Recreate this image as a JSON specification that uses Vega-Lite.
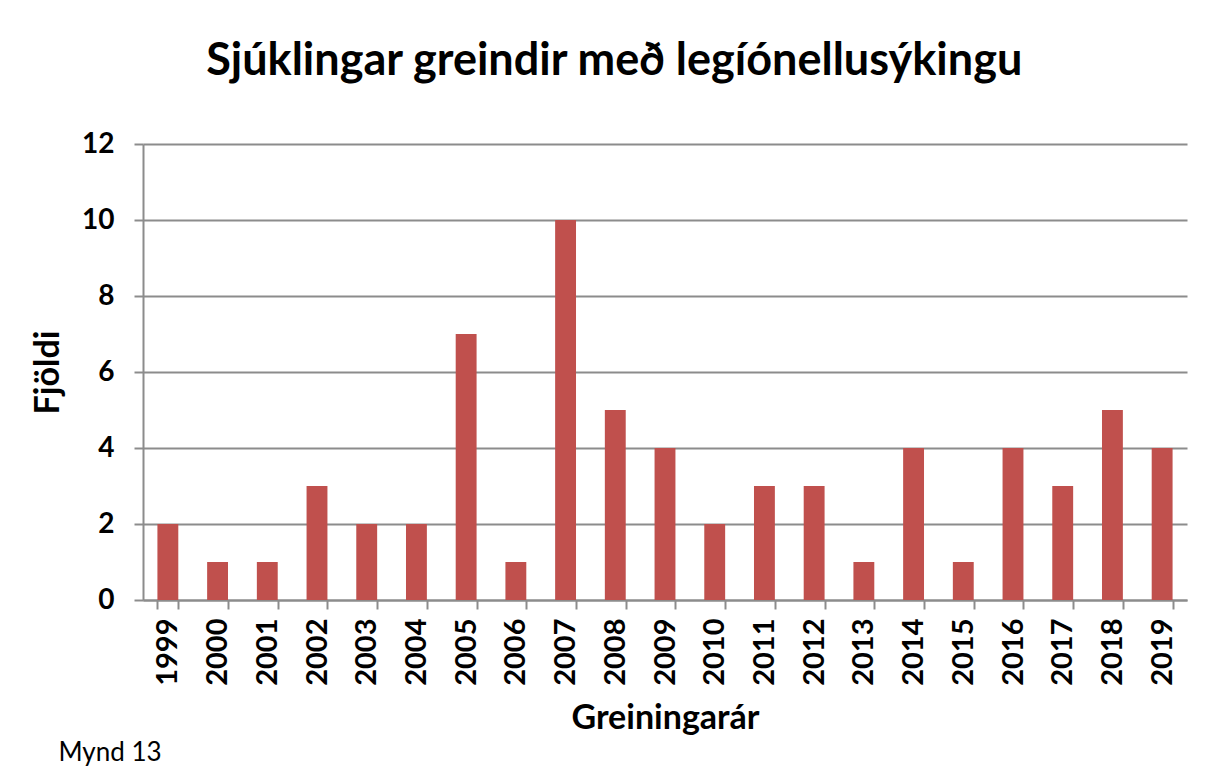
{
  "$schema": "https://vega.github.io/schema/vega-lite/v6.json",
  "background": "white",
  "padding": {"left": 31, "top": 39, "right": 20, "bottom": 5},
  "title": {"text": "Mynd 13", "orient": "bottom", "anchor": "start", "font": "Lato", "fontSize": 26, "fontWeight": "normal", "color": "#000000", "dx": 27, "offset": 5},
  "vconcat": [
    {
      "width": 1044,
      "height": 456,
      "title": {"text": "Sjúklingar greindir með legíónellusýkingu", "font": "Lato", "fontSize": 45, "fontWeight": "bold", "color": "#000000", "anchor": "middle", "frame": "bounds", "offset": 46, "dx": 5},
      "data": {
        "values": [
          {"ar": "1999", "fjoldi": 2}, {"ar": "2000", "fjoldi": 1}, {"ar": "2001", "fjoldi": 1},
          {"ar": "2002", "fjoldi": 3}, {"ar": "2003", "fjoldi": 2}, {"ar": "2004", "fjoldi": 2},
          {"ar": "2005", "fjoldi": 7}, {"ar": "2006", "fjoldi": 1}, {"ar": "2007", "fjoldi": 10},
          {"ar": "2008", "fjoldi": 5}, {"ar": "2009", "fjoldi": 4}, {"ar": "2010", "fjoldi": 2},
          {"ar": "2011", "fjoldi": 3}, {"ar": "2012", "fjoldi": 3}, {"ar": "2013", "fjoldi": 1},
          {"ar": "2014", "fjoldi": 4}, {"ar": "2015", "fjoldi": 1}, {"ar": "2016", "fjoldi": 4},
          {"ar": "2017", "fjoldi": 3}, {"ar": "2018", "fjoldi": 5}, {"ar": "2019", "fjoldi": 4}
        ]
      },
      "mark": {"type": "bar", "color": "#C0504D"},
      "encoding": {
        "x": {
          "field": "ar", "type": "ordinal", "title": "Greiningarár",
          "scale": {"paddingInner": 0.58, "paddingOuter": 0.29},
          "axis": {
            "labelAngle": -90, "labelAlign": "right", "labelBaseline": "middle",
            "labelFont": "Lato", "labelFontSize": 29, "labelFontWeight": "bold", "labelColor": "#000000",
            "labelPadding": 9,
            "tickBand": "extent", "tickSize": 9, "tickColor": "#8c8c8c", "tickWidth": 2,
            "domainColor": "#8c8c8c", "domainWidth": 2,
            "titleFont": "Lato", "titleFontSize": 34, "titleFontWeight": "bold", "titleColor": "#000000", "titlePadding": 16
          }
        },
        "y": {
          "field": "fjoldi", "type": "quantitative", "title": "Fjöldi",
          "scale": {"domain": [0, 12]},
          "axis": {
            "values": [0, 2, 4, 6, 8, 10, 12],
            "labelFont": "Lato", "labelFontSize": 28, "labelFontWeight": "bold", "labelColor": "#000000",
            "labelPadding": 20,
            "tickSize": 9, "tickColor": "#8c8c8c", "tickWidth": 2,
            "domainColor": "#8c8c8c", "domainWidth": 2,
            "grid": true, "gridColor": "#8c8c8c", "gridWidth": 2,
            "titleFont": "Lato", "titleFontSize": 34, "titleFontWeight": "bold", "titleColor": "#000000", "titlePadding": 16
          }
        }
      }
    }
  ],
  "config": {"view": {"stroke": null}}
}
